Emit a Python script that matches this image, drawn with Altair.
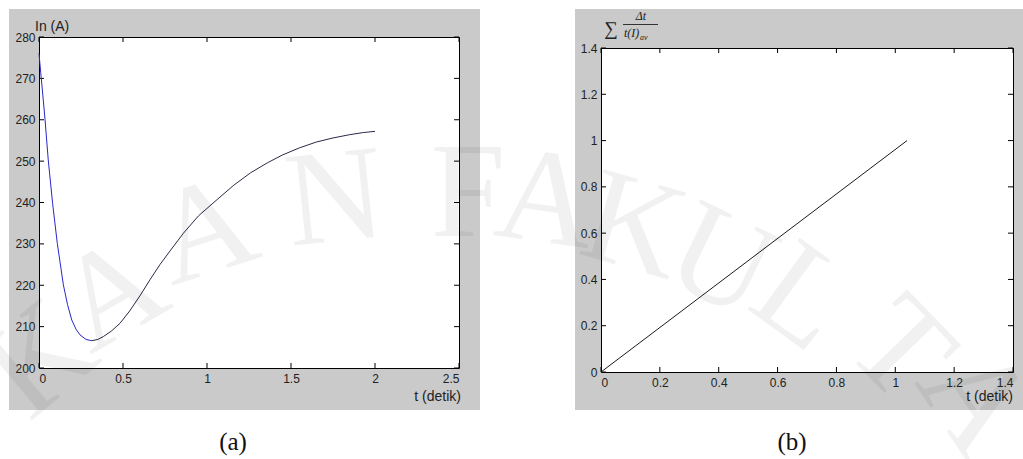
import altair as alt
import pandas as pd

W, H = 1023, 459

# Panel (a): current In (A) against time t (detik)
t_a = [0.0, 0.01, 0.02, 0.036, 0.055, 0.081, 0.109, 0.145, 0.17, 0.195, 0.22, 0.244,
       0.28, 0.314, 0.35, 0.383, 0.43, 0.482, 0.54, 0.6, 0.66, 0.72, 0.78, 0.86,
       0.95, 1.06, 1.16, 1.26, 1.36, 1.45, 1.55, 1.65, 1.75, 1.85, 1.93, 2.0]
in_a = [276.0, 271.5, 267.2, 260.0, 250.3, 239.8, 230.1, 220.1, 215.3, 211.6, 209.4, 208.0,
        206.9, 206.6, 206.9, 207.6, 208.9, 210.8, 213.8, 217.4, 221.3, 225.0, 228.3, 232.6,
        236.8, 240.7, 244.2, 247.2, 249.6, 251.5, 253.2, 254.6, 255.6, 256.4, 256.9, 257.2]
split_a = 13  # index where the blue trace hands over to the dark one

# Panel (b): accumulated sum of dt / t(I)av against time
t_b = [0.0, 1.04]
sum_b = [0.0, 1.0]

xticks_a = [0, 0.5, 1, 1.5, 2, 2.5]
yticks_a = [200, 210, 220, 230, 240, 250, 260, 270, 280]
xticks_b = [0, 0.2, 0.4, 0.6, 0.8, 1.0, 1.2, 1.4]
yticks_b = [0, 0.2, 0.4, 0.6, 0.8, 1.0, 1.2, 1.4]

# watermark letters: (char, x, y, angle)
wm_chars = ["K", "A", "A", "N", "F", "A", "K", "U", "L", "T", "A"]
wm_x = [40, 112, 205, 335, 468, 546, 634, 721, 802, 900, 975]
wm_y = [360, 295, 232, 200, 195, 201, 227, 262, 298, 350, 400]
wm_angle = [320, 330, 342, 354, 0, 8, 16, 26, 36, 46, 56]

ONE = pd.DataFrame({"_": [0]})
SANS = "Liberation Sans"
SERIF = "Liberation Serif"
GRAY = "#cacaca"


def rect(x0, x1, y0, y1, **kw):
    return alt.Chart(ONE).mark_rect(**kw).encode(
        x=alt.value(x0), x2=alt.value(x1), y=alt.value(y0), y2=alt.value(y1))


def label(text, x, y, **kw):
    return alt.Chart(ONE).mark_text(text=text, **kw).encode(x=alt.value(x), y=alt.value(y))


def hline(x0, x1, y, **kw):
    return alt.Chart(ONE).mark_rule(**kw).encode(
        x=alt.value(x0), x2=alt.value(x1), y=alt.value(y))


def panel(box, xdom, ydom, xticks, yticks, traces):
    x0, x1, y0, y1 = box
    xs = alt.Scale(domain=xdom, range=[x0, x1], nice=False, zero=False)
    ys = alt.Scale(domain=ydom, range=[y1, y0], nice=False, zero=False)
    common = dict(ticks=False, tickSize=0, domain=False, grid=False, title=None,
                  labelFont=SANS, labelFontSize=12, labelColor="#222",
                  labelOverlap=False, format="~r", zindex=1)
    xax = alt.Axis(orient="bottom", offset=y1 - H, values=xticks, labelPadding=5, **common)
    yax = alt.Axis(orient="left", offset=-x0, values=yticks, labelPadding=4, **common)

    tx = pd.DataFrame({"v": xticks})
    ty = pd.DataFrame({"v": yticks})
    tick = dict(color="black", strokeWidth=1)
    layers = [
        alt.Chart(tx).mark_rule(**tick).encode(
            x=alt.X("v:Q", scale=xs, axis=xax), y=alt.value(y1), y2=alt.value(y1 - 5)),
        alt.Chart(tx).mark_rule(**tick).encode(
            x=alt.X("v:Q", scale=xs, axis=xax), y=alt.value(y0), y2=alt.value(y0 + 5)),
        alt.Chart(ty).mark_rule(**tick).encode(
            y=alt.Y("v:Q", scale=ys, axis=yax), x=alt.value(x0), x2=alt.value(x0 + 5)),
        alt.Chart(ty).mark_rule(**tick).encode(
            y=alt.Y("v:Q", scale=ys, axis=yax), x=alt.value(x1 - 5), x2=alt.value(x1)),
    ]
    for df, color in traces:
        layers.append(
            alt.Chart(df).mark_line(color=color, strokeWidth=1).encode(
                x=alt.X("t:Q", scale=xs, axis=xax),
                y=alt.Y("v:Q", scale=ys, axis=yax)))
    return alt.layer(*layers)


BOX_A = (39, 459, 37, 368)
BOX_B = (601, 1013, 48, 372)

df_a_blue = pd.DataFrame({"t": t_a[:split_a + 1], "v": in_a[:split_a + 1]})
df_a_dark = pd.DataFrame({"t": t_a[split_a:], "v": in_a[split_a:]})
df_b = pd.DataFrame({"t": t_b, "v": sum_b})

panel_a = panel(BOX_A, [0, 2.5], [200, 280], xticks_a, yticks_a,
                [(df_a_blue, "#2828c8"), (df_a_dark, "#2a2a46")])
panel_b = panel(BOX_B, [0, 1.4], [0, 1.4], xticks_b, yticks_b,
                [(df_b, "#1a1a1a")])

# figure windows and white axes boxes
background = [
    rect(9, 480, 9, 410, fill=GRAY),
    rect(575, 1023, 9, 410, fill=GRAY),
    rect(BOX_A[0] + 0.5, BOX_A[1] + 0.5, BOX_A[2] + 0.5, BOX_A[3] + 0.5,
         fill="white", stroke="black", strokeWidth=1),
    rect(BOX_B[0] + 0.5, BOX_B[1] + 0.5, BOX_B[2] + 0.5, BOX_B[3] + 0.5,
         fill="white", stroke="black", strokeWidth=1),
]

txt = dict(font=SANS, fontSize=14, color="#222", baseline="alphabetic")
annotations = [
    label("In (A)", 35, 31, align="left", **txt),
    label("t (detik)", 461, 401, align="right", **txt),
    label("t (detik)", 1013, 401, align="right", **txt),
    # sum of dt over t(I)av, drawn as a small stacked fraction
    label("\u2211", 611, 35, align="center", font=SERIF, fontSize=19, color="#222",
          baseline="alphabetic"),
    hline(623, 658, 24.5, color="#333", strokeWidth=1),
    label("\u0394t", 641, 20, align="center", font=SERIF, fontSize=12, fontStyle="italic",
          color="#222", baseline="alphabetic"),
    label("t(I)", 624, 37, align="left", font=SERIF, fontSize=12, fontStyle="italic",
          color="#222", baseline="alphabetic"),
    label("av", 640, 40, align="left", font=SERIF, fontSize=8, fontStyle="italic",
          color="#222", baseline="alphabetic"),
    # sub-figure captions
    label("(a)", 233, 450, align="center", font=SERIF, fontSize=25, color="#111",
          baseline="alphabetic"),
    label("(b)", 792, 450, align="center", font=SERIF, fontSize=25, color="#111",
          baseline="alphabetic"),
]

watermark = [
    alt.Chart(ONE).mark_text(text=c, font=SERIF, fontSize=135, color="black", opacity=0.05,
                             align="center", baseline="middle", angle=a)
    .encode(x=alt.value(x), y=alt.value(y))
    for c, x, y, a in zip(wm_chars, wm_x, wm_y, wm_angle)
]

chart = (
    alt.layer(*background, panel_a, panel_b, *annotations, *watermark)
    .resolve_scale(x="independent", y="independent")
    .properties(width=W, height=H, padding=0, background="white",
                autosize=alt.AutoSizeParams(type="none"))
    .configure_view(strokeWidth=0)
)

chart.save("out.html", embed_options={"renderer": "svg", "actions": False})
